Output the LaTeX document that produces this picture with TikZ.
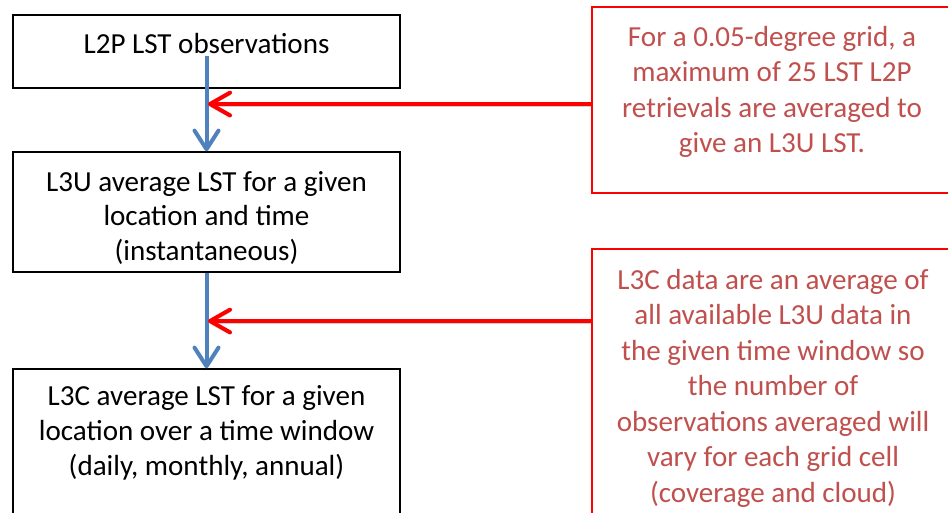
\documentclass[tikz,border=0pt]{standalone}
\usepackage{fontspec}
\setmainfont{Carlito}
\usetikzlibrary{arrows.meta}
\definecolor{flowblue}{HTML}{4F81BD}
\definecolor{notetext}{HTML}{C0504D}
\definecolor{linered}{HTML}{FF0000}
\begin{document}
\begin{tikzpicture}[x=0.75pt,y=-0.75pt,
  stepbox/.style={draw=black, line width=1.1pt, fill=white, inner sep=0pt},
  notebox/.style={draw=linered, line width=1.1pt, fill=white, inner sep=0pt},
  steptext/.style={align=center, inner sep=0pt, text=black,
    font=\fontsize{21.8}{26.2}\selectfont},
  notetextstyle/.style={align=center, inner sep=0pt, text=notetext,
    font=\fontsize{21.8}{26.6}\selectfont},
  flowarrow/.style={draw=flowblue, line width=3pt,
    -{Straight Barb[round, length=14pt, width=18pt]}},
  notearrow/.style={draw=linered, line width=3pt,
    -{Straight Barb[round, length=15pt, width=17pt]},
    preaction={draw=black, opacity=0.18, transform canvas={yshift=-1.8pt}}}]

\useasboundingbox (0,0) rectangle (948,512);
\clip (0,0) rectangle (948,512);

% flow boxes
\node[stepbox, minimum width=290.25pt, minimum height=54.75pt] (b1) at (206.5,51.5) {};
\node[stepbox, minimum width=290.25pt, minimum height=90pt] (b2) at (206.5,212) {};
\node[stepbox, minimum width=290.25pt, minimum height=143.25pt] (b3) at (206.5,464.5) {};

% note boxes
\node[notebox, minimum width=270pt, minimum height=139.5pt] (n1) at (772,100) {};
\node[notebox, minimum width=270pt, minimum height=233.25pt] (n2) at (772,404.5) {};

% box texts
\node[steptext] (t1) at (206.5,44) {L2P LST observations};
\node[steptext] (t2) at (206.5,218) {L3U average LST for a given\\location and time\\(instantaneous)};
\node[steptext] (t3) at (206.5,433) {L3C average LST for a given\\location over a time window\\(daily, monthly, annual)};

\node[notetextstyle] (m1) at (772,92) {For a 0.05-degree grid, a\\maximum of 25 LST L2P\\retrievals are averaged to\\give an L3U LST.};
\node[notetextstyle] (m2) at (773,388) {L3C data are an average of\\all available L3U data in\\the given time window so\\the number of\\observations averaged will\\vary for each grid cell\\(coverage and cloud)};

% flow arrows
\coordinate (s1) at (206.5,56);
\draw[flowarrow] (s1) -- (b2.north);
\draw[flowarrow] (b2.south) -- (b3.north);

% note arrows
\coordinate (h1) at (208,104);
\coordinate (h2) at (208,321);
\draw[notearrow] (n1.west |- h1) -- (h1);
\draw[notearrow] (n2.west |- h2) -- (h2);
\end{tikzpicture}
\end{document}
